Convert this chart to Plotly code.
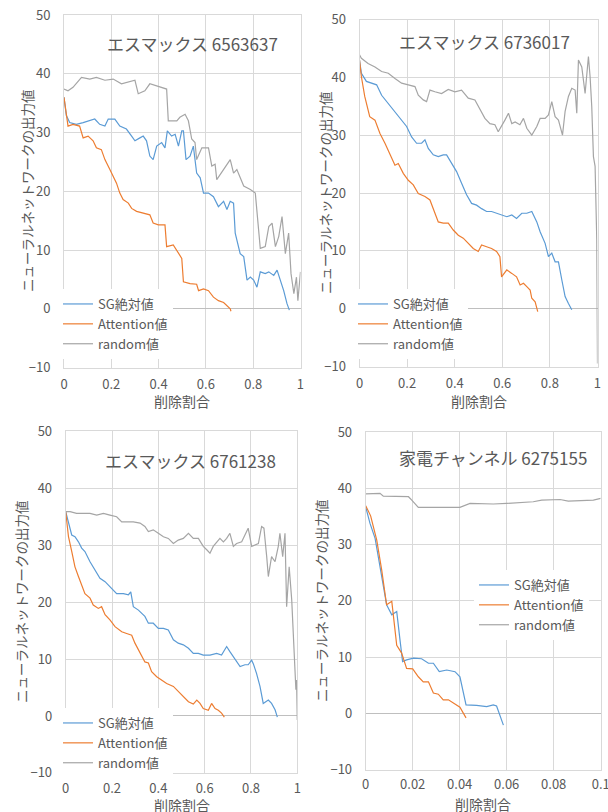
import plotly.graph_objects as go

W, H = 608, 812

# ---------------- Data ----------------
# Panel 1: エスマックス 6563637
p1_sg_x = [0, 0.010, 0.024, 0.052, 0.081, 0.109, 0.130, 0.151, 0.173, 0.187, 0.215, 0.236, 0.264, 0.286, 0.300,
           0.321, 0.335, 0.349, 0.363, 0.377, 0.392, 0.413, 0.427, 0.437, 0.455, 0.470, 0.484, 0.498, 0.505, 0.516,
           0.533, 0.547, 0.561, 0.576, 0.590, 0.611, 0.632, 0.653, 0.675, 0.689, 0.703, 0.717, 0.724, 0.745, 0.760,
           0.774, 0.788, 0.802, 0.816, 0.830, 0.851, 0.866, 0.887, 0.901, 0.915, 0.929, 0.943, 0.953]
p1_sg_y = [36.0, 32.9, 31.7, 31.4, 31.7, 32.0, 32.3, 31.4, 31.1, 32.3, 32.3, 31.1, 30.6, 29.4, 28.6,
           29.1, 29.4, 28.6, 26.0, 25.4, 27.7, 28.3, 27.4, 30.3, 29.4, 29.7, 27.7, 30.3, 30.3, 25.4,
           26.0, 27.7, 23.1, 22.3, 19.7, 19.7, 19.1, 17.4, 18.3, 16.9, 18.3, 18.0, 12.9, 9.4, 8.9,
           4.9, 5.4, 4.9, 3.7, 6.3, 6.0, 6.3, 5.7, 6.6, 4.9, 3.1, 0.9, -0.2]
p1_att_x = [0, 0.010, 0.017, 0.038, 0.066, 0.081, 0.102, 0.123, 0.137, 0.158, 0.173, 0.194, 0.208, 0.222, 0.236,
            0.250, 0.272, 0.286, 0.307, 0.335, 0.363, 0.377, 0.399, 0.427, 0.434, 0.462, 0.484, 0.498, 0.505, 0.533,
            0.561, 0.569, 0.590, 0.611, 0.632, 0.653, 0.675, 0.689, 0.703, 0.706]
p1_att_y = [36.0, 33.4, 31.1, 31.4, 31.1, 29.1, 29.4, 28.6, 27.4, 27.1, 25.4, 23.7, 22.6, 21.4, 19.7,
            18.6, 18.0, 17.1, 16.6, 16.3, 16.0, 14.6, 14.3, 14.3, 10.6, 10.9, 9.4, 8.6, 4.6, 4.3,
            4.2, 3.1, 3.4, 3.1, 2.0, 1.4, 1.1, 0.6, 0.0, -0.4]
p1_rnd_x = [0, 0.017, 0.038, 0.074, 0.109, 0.137, 0.173, 0.208, 0.243, 0.279, 0.300, 0.314, 0.342, 0.363, 0.406,
            0.434, 0.441, 0.477, 0.490, 0.512, 0.526, 0.540, 0.554, 0.561, 0.583, 0.611, 0.625, 0.639, 0.646, 0.675,
            0.703, 0.717, 0.731, 0.760, 0.788, 0.809, 0.816, 0.830, 0.851, 0.866, 0.880, 0.894, 0.908, 0.922, 0.936,
            0.950, 0.960, 0.972, 0.983, 0.989, 1.0]
p1_rnd_y = [37.4, 37.1, 37.7, 39.4, 39.1, 39.4, 38.9, 39.1, 38.3, 38.6, 38.9, 36.6, 37.1, 38.3, 37.7,
            37.4, 32.0, 32.0, 32.6, 33.1, 32.0, 28.9, 28.3, 25.4, 27.4, 27.4, 24.3, 24.6, 22.0, 23.7,
            25.4, 23.1, 23.7, 20.9, 20.3, 19.7, 16.3, 10.3, 10.6, 14.0, 14.6, 10.6, 12.3, 15.7, 9.4,
            12.9, 6.0, 2.6, 5.4, 1.4, 6.3]

# Panel 2: エスマックス 6736017
p2_sg_x = [0, 0.008, 0.029, 0.050, 0.072, 0.093, 0.121, 0.149, 0.177, 0.198, 0.219, 0.240, 0.261, 0.275, 0.289,
           0.310, 0.331, 0.352, 0.366, 0.387, 0.408, 0.429, 0.450, 0.471, 0.492, 0.513, 0.534, 0.555, 0.576, 0.597,
           0.619, 0.640, 0.660, 0.682, 0.703, 0.724, 0.745, 0.759, 0.780, 0.794, 0.808, 0.822, 0.836, 0.850, 0.864,
           0.878, 0.892]
p2_sg_y = [43.0, 40.7, 39.3, 39.0, 38.7, 36.9, 35.5, 34.1, 32.6, 31.5, 29.7, 28.6, 28.6, 29.2, 27.7,
           26.6, 26.3, 26.6, 26.6, 25.1, 23.7, 21.7, 19.7, 18.2, 17.9, 17.3, 16.8, 16.8, 16.5, 16.2,
           15.9, 16.2, 15.6, 16.5, 16.5, 16.8, 15.0, 13.3, 11.3, 9.0, 9.6, 8.1, 8.1, 5.0, 2.1,
           0.9, -0.2]
p2_att_x = [0, 0.008, 0.022, 0.043, 0.065, 0.086, 0.107, 0.128, 0.149, 0.163, 0.184, 0.205, 0.226, 0.247, 0.275,
            0.296, 0.310, 0.331, 0.352, 0.373, 0.394, 0.415, 0.436, 0.457, 0.478, 0.499, 0.513, 0.534, 0.555, 0.576,
            0.590, 0.597, 0.619, 0.640, 0.660, 0.675, 0.689, 0.703, 0.717, 0.724, 0.738, 0.749]
p2_att_y = [43.0, 40.1, 36.7, 33.2, 32.6, 30.3, 28.6, 26.6, 24.8, 25.1, 23.4, 22.2, 21.4, 19.9, 19.4,
            18.8, 17.3, 15.0, 14.8, 14.8, 13.6, 12.7, 12.2, 11.3, 10.4, 9.9, 11.0, 10.7, 10.4, 9.9,
            9.0, 5.5, 6.7, 6.1, 5.5, 4.1, 4.4, 3.8, 3.2, 1.8, 1.2, -0.5]
p2_rnd_x = [0, 0.008, 0.036, 0.065, 0.093, 0.121, 0.149, 0.177, 0.205, 0.233, 0.247, 0.268, 0.282, 0.296, 0.317,
            0.345, 0.373, 0.401, 0.429, 0.457, 0.485, 0.506, 0.527, 0.548, 0.569, 0.583, 0.597, 0.611, 0.626, 0.640,
            0.654, 0.674, 0.689, 0.703, 0.724, 0.745, 0.759, 0.780, 0.794, 0.808, 0.822, 0.836, 0.853, 0.864, 0.878,
            0.892, 0.906, 0.913, 0.920, 0.934, 0.948, 0.962, 0.969, 0.976, 0.983, 0.990, 0.997, 1.0]
p2_rnd_y = [43.9, 43.3, 42.4, 41.8, 41.0, 40.7, 39.8, 39.0, 38.7, 38.4, 36.9, 36.1, 35.8, 37.8, 37.5,
            37.2, 37.9, 37.5, 37.8, 36.4, 36.1, 34.6, 32.9, 32.0, 31.8, 30.6, 31.5, 32.6, 33.8, 32.0,
            32.3, 31.8, 32.9, 31.2, 30.0, 31.5, 32.9, 32.9, 33.5, 35.8, 33.2, 32.6, 30.0, 34.1, 36.7,
            38.1, 37.8, 33.8, 43.0, 41.8, 37.2, 43.6, 40.1, 34.9, 26.3, 24.6, 11.9, -9.5]

# Panel 3: エスマックス 6761238
p3_sg_x = [0, 0.012, 0.026, 0.040, 0.055, 0.069, 0.083, 0.105, 0.127, 0.148, 0.170, 0.191, 0.206, 0.220, 0.249,
           0.271, 0.281, 0.292, 0.314, 0.328, 0.342, 0.357, 0.378, 0.400, 0.422, 0.443, 0.465, 0.486, 0.508, 0.530,
           0.551, 0.573, 0.594, 0.623, 0.652, 0.673, 0.695, 0.709, 0.731, 0.753, 0.774, 0.788, 0.803, 0.810, 0.824,
           0.839, 0.853, 0.875, 0.889, 0.904, 0.914]
p3_sg_y = [35.9, 33.9, 31.8, 31.5, 30.6, 29.5, 28.9, 27.1, 25.7, 24.2, 23.6, 22.7, 22.1, 21.5, 21.5,
           21.3, 21.8, 19.2, 18.6, 18.0, 17.5, 16.3, 16.3, 15.4, 15.4, 15.1, 13.4, 12.8, 12.5, 11.9,
           11.0, 11.0, 10.7, 10.7, 11.0, 10.7, 12.2, 11.3, 10.1, 8.7, 9.0, 9.0, 9.8, 9.2, 7.5,
           5.2, 2.2, 2.8, 2.2, 1.1, -0.2]
p3_att_x = [0, 0.012, 0.026, 0.040, 0.055, 0.069, 0.083, 0.105, 0.119, 0.141, 0.155, 0.170, 0.191, 0.213, 0.242,
            0.263, 0.285, 0.299, 0.321, 0.342, 0.357, 0.371, 0.393, 0.414, 0.436, 0.465, 0.486, 0.508, 0.530, 0.551,
            0.566, 0.580, 0.594, 0.616, 0.630, 0.645, 0.659, 0.673, 0.685]
p3_att_y = [35.9, 31.5, 28.9, 26.2, 24.5, 23.0, 21.5, 20.7, 19.5, 18.9, 19.2, 17.8, 16.9, 15.7, 14.8,
            14.5, 14.2, 12.8, 11.0, 9.5, 9.3, 7.8, 6.9, 6.3, 5.7, 5.2, 4.3, 3.4, 2.5, 2.1,
            2.8, 2.2, 1.3, 1.0, 2.2, 1.3, 1.0, 0.5, -0.2]
p3_rnd_x = [0, 0.019, 0.047, 0.076, 0.105, 0.134, 0.163, 0.191, 0.220, 0.242, 0.263, 0.292, 0.321, 0.342, 0.357,
            0.378, 0.400, 0.422, 0.443, 0.465, 0.486, 0.508, 0.530, 0.551, 0.573, 0.594, 0.609, 0.623, 0.637, 0.652,
            0.666, 0.681, 0.695, 0.709, 0.724, 0.738, 0.760, 0.774, 0.788, 0.803, 0.817, 0.832, 0.846, 0.856, 0.868,
            0.875, 0.889, 0.904, 0.918, 0.925, 0.937, 0.947, 0.954, 0.965, 0.976, 0.983, 0.990, 0.994, 0.997, 1.0]
p3_rnd_y = [35.9, 35.9, 35.6, 35.6, 35.6, 35.3, 35.6, 35.3, 35.0, 34.1, 34.1, 34.1, 33.9, 33.3, 32.4,
            32.7, 32.1, 31.5, 31.2, 30.3, 30.9, 31.2, 32.1, 31.2, 31.2, 29.8, 29.2, 28.6, 29.8, 30.6,
            31.2, 30.6, 31.2, 32.1, 29.8, 30.3, 30.6, 31.8, 33.0, 29.8, 30.0, 30.3, 33.3, 33.0, 28.0,
            24.5, 28.0, 27.1, 29.8, 32.1, 28.0, 32.1, 19.2, 26.2, 20.4, 14.5, 9.8, 4.6, 6.3, -0.7]

# Panel 4: 家電チャンネル 6275155
p4_sg_x = [0, 0.0018, 0.0040, 0.0061, 0.0089, 0.0111, 0.0132, 0.0146, 0.0157, 0.0174, 0.0203, 0.0238, 0.0267,
           0.0288, 0.0313, 0.0345, 0.0380, 0.0401, 0.0427, 0.0472, 0.0515, 0.0543, 0.0557, 0.0586]
p4_sg_y = [36.7, 33.8, 31.1, 26.1, 19.3, 17.5, 18.1, 13.0, 9.2, 9.5, 9.8, 9.7, 8.9,
           8.9, 7.4, 7.7, 7.4, 6.5, 1.5, 1.4, 1.2, 1.5, 1.3, -2.1]
p4_att_x = [0, 0.0021, 0.0047, 0.0068, 0.0089, 0.0111, 0.0132, 0.0153, 0.0174, 0.0200, 0.0224, 0.0245, 0.0267,
            0.0288, 0.0309, 0.0330, 0.0352, 0.0373, 0.0401, 0.0427]
p4_att_y = [36.9, 35.1, 30.8, 25.5, 19.3, 19.9, 12.1, 10.7, 8.0, 7.9, 6.5, 5.6, 5.6,
            3.6, 3.4, 2.4, 2.4, 1.8, 1.1, -0.8]
p4_rnd_x = [0, 0.0061, 0.0075, 0.0160, 0.0182, 0.0196, 0.0224, 0.0274, 0.0316, 0.0401, 0.0444, 0.0487, 0.0543,
            0.0600, 0.0657, 0.0713, 0.0749, 0.0799, 0.0827, 0.0862, 0.0912, 0.0969, 0.1000]
p4_rnd_y = [39.0, 39.1, 38.6, 38.6, 38.5, 37.9, 36.6, 36.6, 36.6, 36.6, 37.3, 37.2, 37.2,
            37.3, 37.5, 37.6, 37.9, 37.9, 38.0, 37.7, 37.8, 37.9, 38.2]

titles = ["エスマックス 6563637", "エスマックス 6736017", "エスマックス 6761238", "家電チャンネル 6275155"]
series_names = ["SG絶対値", "Attention値", "random値"]
y_ticks = [-10, 0, 10, 20, 30, 40, 50]
x_ticks_a = [0, 0.2, 0.4, 0.6, 0.8, 1]
x_ticks_b = [0, 0.02, 0.04, 0.06, 0.08, 0.1]
x_ticktext_b = ["0", "0.02", "0.04", "0.06", "0.08", "0.1"]
x_title = "削除割合"
y_title = "ニューラルネットワークの出力値"

# ---------------- Styling / layout ----------------
FONT = "Noto Sans CJK JP"
TXT = "#595959"
GRID = "#D9D9D9"
colors = ["#5B9BD5", "#ED7D31", "#A5A5A5"]

panels = [
    dict(data=[(p1_sg_x, p1_sg_y), (p1_att_x, p1_att_y), (p1_rnd_x, p1_rnd_y)],
         xd=(64, 300.5), yd=(15, 367.7), xr=(0, 1.0001), xt=x_ticks_a, xtt=None, tl=5,
         title=(193, 43), xtitle=(182, 401), ytitle=(27, 191), legend=(58, 289), lfs=13),
    dict(data=[(p2_sg_x, p2_sg_y), (p2_att_x, p2_att_y), (p2_rnd_x, p2_rnd_y)],
         xd=(359.5, 597.5), yd=(19.5, 366.5), xr=(0, 1.0001), xt=x_ticks_a, xtt=None, tl=5,
         title=(484, 42), xtitle=(479, 401), ytitle=(325, 193), legend=(353, 289), lfs=13),
    dict(data=[(p3_sg_x, p3_sg_y), (p3_att_x, p3_att_y), (p3_rnd_x, p3_rnd_y)],
         xd=(65.7, 297.3), yd=(431.4, 772.9), xr=(0, 1.0001), xt=x_ticks_a, xtt=None, tl=3,
         title=(190, 460), xtitle=(182, 805), ytitle=(21, 602), legend=(58, 708), lfs=13),
    dict(data=[(p4_sg_x, p4_sg_y), (p4_att_x, p4_att_y), (p4_rnd_x, p4_rnd_y)],
         xd=(365.7, 600.7), yd=(432, 769.6), xr=(0, 0.10001), xt=x_ticks_b, xtt=x_ticktext_b, tl=3,
         title=(493, 457), xtitle=(483, 804), ytitle=(321, 601), legend=(474, 570), lfs=13),
]

fig = go.Figure()
layout = dict(width=W, height=H, margin=dict(l=0, r=0, t=0, b=0, autoexpand=False),
              paper_bgcolor="white", plot_bgcolor="white",
              font=dict(family=FONT, color=TXT, size=13), annotations=[])

for i, p in enumerate(panels):
    k = "" if i == 0 else str(i + 1)
    leg = "legend" if i == 0 else f"legend{i + 1}"
    for j, (xs, ys) in enumerate(p["data"]):
        fig.add_trace(go.Scatter(x=xs, y=ys, mode="lines", name=series_names[j],
                                 line=dict(color=colors[j], width=1.2),
                                 xaxis="x" + k, yaxis="y" + k, legend=leg))
    xaxis = dict(
        domain=[p["xd"][0] / W, p["xd"][1] / W], anchor="y" + k, range=list(p["xr"]),
        tickvals=p["xt"], showgrid=True, gridcolor=GRID, gridwidth=1, zeroline=False,
        showline=True, linecolor=GRID, mirror=True, automargin=False, ticklabeloverflow="allow",
        ticks="outside", ticklen=p["tl"], tickcolor="rgba(0,0,0,0)",
        tickfont=dict(size=13, color=TXT, family=FONT))
    if p["xtt"] is not None:
        xaxis["ticktext"] = p["xtt"]
    layout["xaxis" + k] = xaxis
    layout["yaxis" + k] = dict(
        domain=[1 - p["yd"][1] / H, 1 - p["yd"][0] / H], anchor="x" + k, range=[-10, 50],
        tickvals=y_ticks, showgrid=True, gridcolor=GRID, gridwidth=1,
        zeroline=True, zerolinecolor="#BFBFBF", zerolinewidth=1,
        showline=True, linecolor=GRID, mirror=True, automargin=False,
        ticks="outside", ticklen=10, tickcolor="rgba(0,0,0,0)",
        tickfont=dict(size=13, color=TXT, family=FONT))
    layout[leg] = dict(x=p["legend"][0] / W, y=1 - p["legend"][1] / H, xanchor="left", yanchor="top",
                       bgcolor="white", borderwidth=0, font=dict(size=p["lfs"], color=TXT, family=FONT),
                       tracegroupgap=0, itemwidth=30)
    layout["annotations"] += [
        dict(text=titles[i], x=p["title"][0] / W, y=1 - p["title"][1] / H, xref="paper", yref="paper",
             showarrow=False, font=dict(size=17, color=TXT, family=FONT), xanchor="center", yanchor="middle"),
        dict(text=x_title, x=p["xtitle"][0] / W, y=1 - p["xtitle"][1] / H, xref="paper", yref="paper",
             showarrow=False, font=dict(size=14, color=TXT, family=FONT), xanchor="center", yanchor="middle"),
        dict(text=y_title, x=p["ytitle"][0] / W, y=1 - p["ytitle"][1] / H, xref="paper", yref="paper",
             showarrow=False, textangle=-90, font=dict(size=13.5, color=TXT, family=FONT),
             xanchor="center", yanchor="middle"),
    ]

fig.update_layout(**layout)
fig.write_html("out.html", config={"displayModeBar": False},
               post_script="document.body.style.margin='0';document.body.style.overflow='hidden';")
